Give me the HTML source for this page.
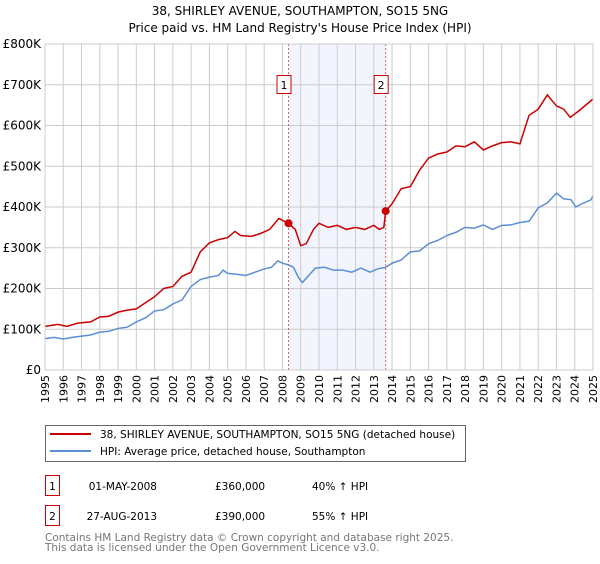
<!DOCTYPE html>
<html><head><meta charset="utf-8"><style>
body{margin:0;background:#fff;width:600px;height:560px;overflow:hidden;font-family:"DejaVu Sans","Liberation Sans",sans-serif}
svg text{font-family:"DejaVu Sans","Liberation Sans",sans-serif}
</style></head><body>
<svg id="chart" width="600" height="560">
<text x="300" y="15" text-anchor="middle" font-size="12">38, SHIRLEY AVENUE, SOUTHAMPTON, SO15 5NG</text>
<text x="300" y="32" text-anchor="middle" font-size="12">Price paid vs. HM Land Registry's House Price Index (HPI)</text>
<g id="plot"></g>
<g>
<rect x="45.5" y="425.5" width="420" height="36" fill="#fff" stroke="#666"/>
<line x1="50" y1="434" x2="91" y2="434" stroke="#cc0000" stroke-width="2"/>
<text x="100" y="438" font-size="10.5">38, SHIRLEY AVENUE, SOUTHAMPTON, SO15 5NG (detached house)</text>
<line x1="50" y1="451" x2="91" y2="451" stroke="#5b8fd4" stroke-width="2"/>
<text x="100" y="455" font-size="10.5">HPI: Average price, detached house, Southampton</text>
</g>
<g font-size="10.5">
<rect x="45.5" y="475.5" width="14" height="20" fill="#fff" stroke="#cc0000"/>
<text x="52.5" y="490" text-anchor="middle">1</text>
<text x="157" y="490" text-anchor="end">01-MAY-2008</text>
<text x="215" y="490">£360,000</text>
<text x="312" y="490">40% ↑ HPI</text>
<rect x="45.5" y="505.5" width="14" height="20" fill="#fff" stroke="#cc0000"/>
<text x="52.5" y="520" text-anchor="middle">2</text>
<text x="157" y="520" text-anchor="end">27-AUG-2013</text>
<text x="215" y="520">£390,000</text>
<text x="312" y="520">55% ↑ HPI</text>
</g>
<text x="45" y="541" font-size="10.5" fill="#777">Contains HM Land Registry data © Crown copyright and database right 2025.</text>
<text x="45" y="551" font-size="10.5" fill="#777">This data is licensed under the Open Government Licence v3.0.</text>
</svg>
<script>
const hpiYears=[1995,1995.5,1996,1996.5,1997,1997.5,1998,1998.5,1999,1999.5,2000,2000.5,2001,2001.5,2002,2002.5,2003,2003.5,2004,2004.5,2004.75,2005,2005.5,2006,2006.5,2007,2007.4,2007.75,2008,2008.33,2008.6,2008.9,2009.1,2009.4,2009.8,2010.3,2010.8,2011.3,2011.8,2012.3,2012.8,2013.2,2013.65,2014,2014.5,2015,2015.5,2016,2016.5,2017,2017.5,2018,2018.5,2019,2019.5,2020,2020.5,2021,2021.5,2022,2022.5,2023,2023.4,2023.8,2024.05,2024.4,2024.9,2025];
const hpiValues=[77,80,76,80,83,86,93,95,102,105,118,128,145,148,162,172,205,222,228,232,245,237,235,232,240,248,252,268,262,258,252,225,215,230,250,252,245,245,240,250,240,248,252,262,270,290,292,310,318,330,338,350,348,356,345,355,356,362,365,398,410,434,420,418,400,408,418,428];
const priceYears=[1995,1995.7,1996.2,1996.8,1997.5,1998,1998.5,1999,1999.5,2000,2000.5,2001,2001.5,2002,2002.5,2003,2003.5,2004,2004.5,2005,2005.4,2005.7,2006.3,2006.8,2007.3,2007.8,2008.1,2008.33,2008.7,2009,2009.3,2009.7,2010,2010.5,2011,2011.5,2012,2012.5,2013,2013.3,2013.55,2013.65,2014,2014.5,2015,2015.5,2016,2016.5,2017,2017.5,2018,2018.5,2019,2019.5,2020,2020.5,2021,2021.5,2022,2022.5,2023,2023.4,2023.75,2024.2,2024.6,2025];
const priceValues=[107,112,107,115,118,130,132,142,147,150,165,180,200,205,230,240,290,312,320,325,340,330,328,335,345,372,365,360,345,305,310,345,360,350,355,345,350,345,355,345,350,390,408,445,450,490,520,530,535,550,548,560,540,550,558,560,555,625,640,675,648,640,620,635,650,665];
const saleYears=[2008.33,2013.65];
const saleValues=[360,390];
const saleLabels=["1","2"];
const yTicks=[0,100,200,300,400,500,600,700,800];
const yTickLabels=["£0","£100K","£200K","£300K","£400K","£500K","£600K","£700K","£800K"];
const xTicks=[1995,1996,1997,1998,1999,2000,2001,2002,2003,2004,2005,2006,2007,2008,2009,2010,2011,2012,2013,2014,2015,2016,2017,2018,2019,2020,2021,2022,2023,2024,2025];

const X0=45,X1=593,Y0=370,Y1=44;
const xs=y=>X0+(y-1995)/30*(X1-X0);
const ys=v=>Y0-v/800*(Y0-Y1);
const NS="http://www.w3.org/2000/svg";
const g=document.getElementById('plot');
function mk(t,a){const e=document.createElementNS(NS,t);for(const k in a)e.setAttribute(k,a[k]);g.appendChild(e);return e;}

const shade=mk('rect',{x:xs(saleYears[0]),y:Y1,width:xs(saleYears[1])-xs(saleYears[0]),height:Y0-Y1,fill:'#f2f5fd'});


xTicks.forEach(t=>{
  const l=mk('line',{x1:xs(t),x2:xs(t),y1:Y1,y2:Y0,stroke:'#ccc'});
  
  
  const tx=mk('text',{x:0,y:0,'font-size':11,'text-anchor':'end',transform:`translate(${xs(t)+4},${Y0+5}) rotate(-90)`});
  tx.textContent=t;
  
  
});
yTicks.forEach((t,i)=>{
  const l=mk('line',{x1:X0,x2:X1,y1:ys(t),y2:ys(t),stroke:'#ccc'});
  
  
  const tx=mk('text',{x:X0-4,y:ys(t)+4,'font-size':12,'text-anchor':'end'});
  tx.textContent=yTickLabels[i];
  
  
});
saleYears.forEach((s,i)=>{
  const l=mk('line',{x1:xs(s),x2:xs(s),y1:Y1,y2:Y0,stroke:'#e06060','stroke-dasharray':'2,2'});
  
  
  const r=mk('rect',{x:xs(s)-11.5,y:75.5,width:14,height:18,fill:'#fff',stroke:'#cc0000'});
  
  
  const t=mk('text',{x:xs(s)-4.5,y:89,'font-size':11,'text-anchor':'middle'});
  t.textContent=saleLabels[i];
  
  
});
const hp=mk('polyline',{points:hpiYears.map((y,i)=>xs(y)+','+ys(hpiValues[i])).join(' '),fill:'none',stroke:'#5b8fd4','stroke-width':1.5});


const pp=mk('polyline',{points:priceYears.map((y,i)=>xs(y)+','+ys(priceValues[i])).join(' '),fill:'none',stroke:'#cc0000','stroke-width':1.5});


saleYears.forEach((s,i)=>{
  const c=mk('circle',{cx:xs(s),cy:ys(saleValues[i]),r:4,fill:'#cc0000'});
  
  
});
const ax=mk('rect',{x:X0,y:Y1,width:X1-X0,height:Y0-Y1,fill:'none',stroke:'#ccc'});


</script>
</body></html>
